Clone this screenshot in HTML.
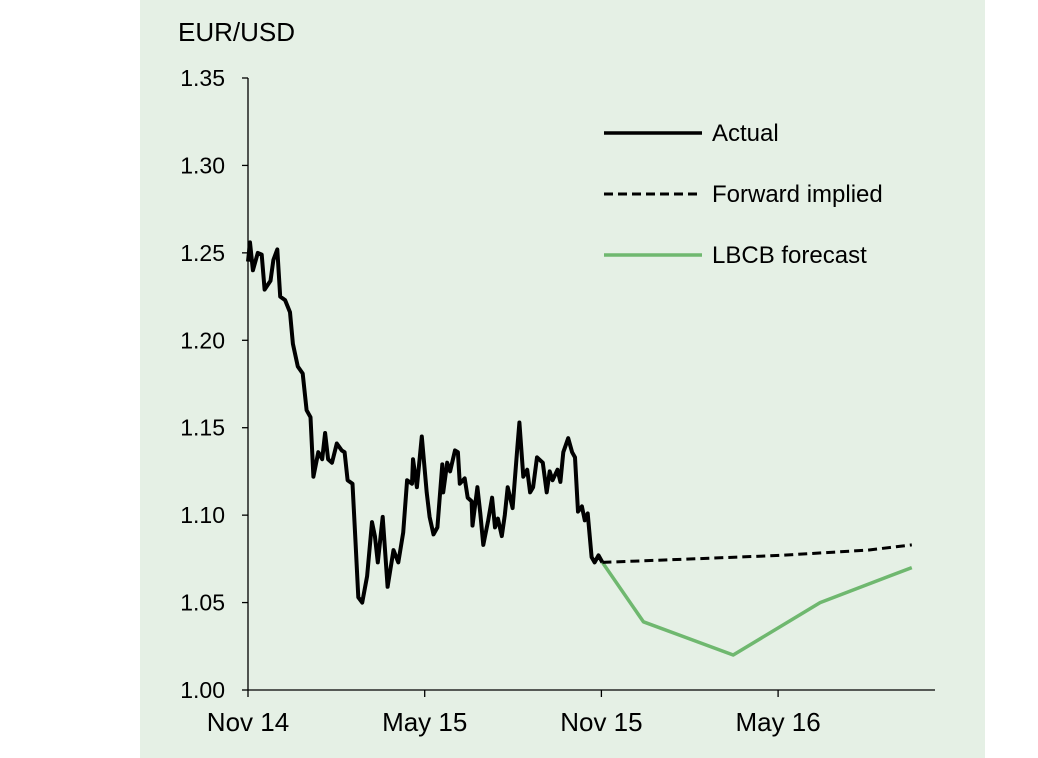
<!DOCTYPE html>
<html><head><meta charset="utf-8"><style>
body{margin:0;background:#fff;}
#bg{position:absolute;left:140px;top:0;width:845px;height:758px;background:#e5f0e5;}
svg{position:absolute;left:0;top:0;}
text{font-family:"Liberation Sans",sans-serif;fill:#000;}
</style></head><body>
<div id="bg"></div>
<svg id="chart" width="1038" height="758"></svg>
<script>
const actualDays=[0,2,5,10,14,17,23,26,30,33,38,43,46,51,56,60,64,67,72,76,79,82,86,91,96,99,102,107,110,113,117,122,127,130,133,138,143,149,154,159,163,168,169,173,178,183,186,190,194,199,200,204,207,212,215,217,222,225,229,230,235,238,241,246,250,253,256,260,263,266,271,276,278,282,286,289,292,296,302,306,309,312,317,320,323,328,332,335,338,342,345,348,352,355,359,363];
const actualVals=[1.245,1.256,1.240,1.250,1.249,1.229,1.234,1.246,1.252,1.225,1.223,1.216,1.198,1.185,1.181,1.160,1.156,1.122,1.136,1.132,1.147,1.132,1.130,1.141,1.137,1.136,1.120,1.118,1.086,1.053,1.050,1.065,1.096,1.088,1.073,1.099,1.059,1.080,1.073,1.090,1.120,1.118,1.132,1.116,1.145,1.113,1.099,1.089,1.093,1.129,1.113,1.130,1.125,1.137,1.136,1.118,1.121,1.110,1.108,1.094,1.116,1.101,1.083,1.097,1.110,1.093,1.098,1.088,1.100,1.116,1.104,1.139,1.153,1.122,1.126,1.113,1.116,1.133,1.130,1.113,1.125,1.120,1.126,1.119,1.136,1.144,1.136,1.133,1.102,1.105,1.097,1.101,1.076,1.073,1.077,1.073];
const fwdDays=[363,455,545,635,680];
const fwdVals=[1.073,1.075,1.077,1.080,1.083];
const fcDays=[363,405,497,586,680];
const fcVals=[1.073,1.039,1.020,1.050,1.070];
const yTicks=[1.00,1.05,1.10,1.15,1.20,1.25,1.30,1.35];
const yTickLabels=["1.00","1.05","1.10","1.15","1.20","1.25","1.30","1.35"];
const xTickDays=[0,181,362,543];
const xTickLabels=["Nov 14","May 15","Nov 15","May 16"];

const NS="http://www.w3.org/2000/svg";
const svg=document.getElementById('chart');
const x=d=>248+d*(176.7/181);
const y=v=>690-(v-1.0)/0.35*612;
function mk(tag,attrs,parent){const e=document.createElementNS(NS,tag);for(const k in attrs)e.setAttribute(k,attrs[k]);(parent||svg).appendChild(e);return e;}

let ax=mk('line',{x1:248,y1:78,x2:248,y2:690,stroke:'#000','stroke-width':1.3});


let axx=mk('line',{x1:248,y1:690,x2:935,y2:690,stroke:'#000','stroke-width':1.3});


yTicks.forEach((v,i)=>{
  const t=mk('line',{x1:242,y1:y(v),x2:248,y2:y(v),stroke:'#000','stroke-width':1.3});
  
  
  const l=mk('text',{x:225,y:y(v)+8,'text-anchor':'end','font-size':23});
  l.textContent=yTickLabels[i];
  
  
});
xTickDays.forEach((d,i)=>{
  const t=mk('line',{x1:x(d),y1:690,x2:x(d),y2:697,stroke:'#000','stroke-width':1.3});
  
  
  const l=mk('text',{x:x(d),y:731,'text-anchor':'middle','font-size':26});
  l.textContent=xTickLabels[i];
  
  
});
let yt=mk('text',{x:178,y:41,'font-size':26});
yt.textContent='EUR/USD';



function line(days,vals,attrs,name){
  const d=days.map((dd,i)=>(i?'L':'M')+x(dd).toFixed(1)+','+y(vals[i]).toFixed(1)).join('');
  const p=mk('path',Object.assign({d:d,fill:'none','stroke-linejoin':'round'},attrs));
  
  
}
line(fcDays,fcVals,{stroke:'#6fb86f','stroke-width':3.5},'lbcb-forecast-line');
line(fwdDays,fwdVals,{stroke:'#000','stroke-width':3,'stroke-dasharray':'9,5'},'forward-implied-line');
line(actualDays,actualVals,{stroke:'#000','stroke-width':4},'actual-line');

const legend=[["Actual",{stroke:'#000','stroke-width':3.5}],["Forward implied",{stroke:'#000','stroke-width':3,'stroke-dasharray':'9,5'}],["LBCB forecast",{stroke:'#6fb86f','stroke-width':3.5}]];
legend.forEach((L,i)=>{
  const ly=133+i*61;
  const g=mk('g',{});
  
  
  mk('line',Object.assign({x1:604,y1:ly,x2:702,y2:ly},L[1]),g);
  const t=mk('text',{x:712,y:ly+8,'font-size':24},g);
  t.textContent=L[0];
});
</script>
</body></html>
